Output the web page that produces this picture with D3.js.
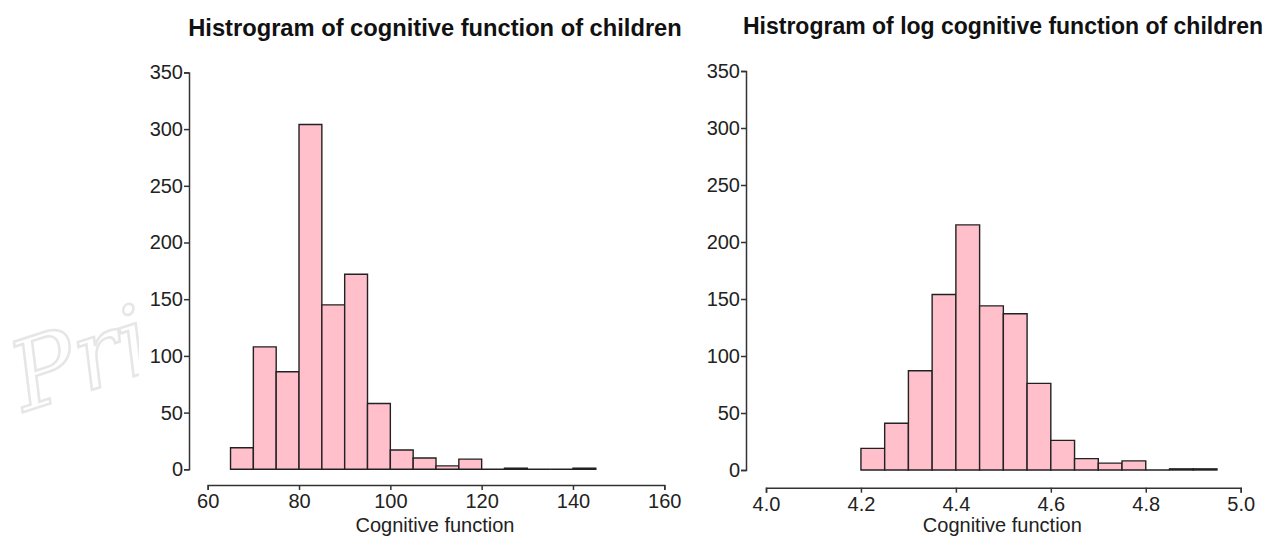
<!DOCTYPE html>
<html>
<head>
<meta charset="utf-8">
<script src="https://cdn.jsdelivr.net/npm/d3@7"></script>
<style>
    body { margin: 0; background: #fff; }
    svg { display: block; }
    .tick text { font-family: "Liberation Sans", Arial, sans-serif; fill: #222; }
    .domain, .tick line { stroke: #333; stroke-width: 1.5px; }
</style>
</head>
<body>
<div id="graphDiv"></div>
<script>
// bin counts
const rawBinStarts = [65, 70, 75, 80, 85, 90, 95, 100, 105, 110, 115, 120, 125, 130, 135, 140]
const rawCounts = [19, 108, 86, 304, 145, 172, 58, 17, 10, 3, 9, 0, 1, 0, 0, 1]
const rawBinWidth = 5

const logBinStarts = [4.20, 4.25, 4.30, 4.35, 4.40, 4.45, 4.50, 4.55, 4.60, 4.65, 4.70, 4.75, 4.80, 4.85, 4.90]
const logCounts = [19, 41, 87, 154, 215, 144, 137, 76, 26, 10, 6, 8, 0, 1, 1]
const logBinWidth = 0.05

const yTicks = [0, 50, 100, 150, 200, 250, 300, 350]
const rawXTicks = [60, 80, 100, 120, 140, 160]
const logXTicks = [4.0, 4.2, 4.4, 4.6, 4.8, 5.0]

const titles = ["Histrogram of cognitive function of children", "Histrogram of log cognitive function of children"]
const xLabel = "Cognitive function"

const svg = d3.select("#graphDiv")
    .append("svg")
    .attr("width", 1273)
    .attr("height", 538)

// faint watermark in the background
svg.append("text")
    .attr("transform", "translate(24,412) rotate(-18)")
    .attr("font-family", "DejaVu Serif, serif")
    .attr("font-style", "italic")
    .attr("font-size", 96)
    .attr("fill", "#fff")
    .attr("stroke", "#e6e6e6")
    .attr("stroke-width", 2.5)
    .text("Pri")

function drawHist(opts) {
    const xScale = d3.scaleLinear().domain(opts.xDomain).range(opts.xRange)
    const yScale = d3.scaleLinear().domain([0, 350]).range(opts.yRange)

    const bins = opts.starts.map((s, i) => ({ x0: s, x1: s + opts.binWidth, n: opts.counts[i] }))

    // white panel hides the watermark behind the plot
    svg.append("rect")
        .attr("x", opts.yAxisX - 50)
        .attr("y", opts.yRange[1] - 12)
        .attr("width", opts.xRange[1] - opts.yAxisX + 60)
        .attr("height", opts.yRange[0] - opts.yRange[1] + 20)
        .attr("fill", "#fff")

    // bars as paths so empty bins still show as a flat line
    svg.append("g")
        .selectAll("path")
        .data(bins)
        .enter()
        .append("path")
        .attr("d", d => {
            const x0 = xScale(d.x0), x1 = xScale(d.x1)
            const y0 = yScale(0), y1 = yScale(d.n)
            return `M${x0},${y0}V${y1}H${x1}V${y0}Z`
        })
        .attr("fill", "#ffc0cb")
        .attr("stroke", "#222")
        .attr("stroke-width", 1.4)

    svg.append("g")
        .attr("transform", `translate(${opts.yAxisX},0)`)
        .call(d3.axisLeft(yScale).tickValues(yTicks).tickSize(5).tickPadding(1).tickSizeOuter(5))
        .call(g => g.selectAll(".tick text").attr("font-size", 20))

    svg.append("g")
        .attr("transform", `translate(0,${opts.xAxisY})`)
        .call(d3.axisBottom(xScale).tickValues(opts.xTicks).tickSize(5).tickPadding(4).tickSizeOuter(5)
            .tickFormat(opts.fmt))
        .call(g => g.selectAll(".tick text").attr("font-size", 20))

    svg.append("text")
        .attr("x", (opts.xRange[0] + opts.xRange[1]) / 2 - 1)
        .attr("y", 532)
        .attr("text-anchor", "middle")
        .attr("font-family", "Liberation Sans, Arial, sans-serif")
        .attr("font-size", 20)
        .attr("fill", "#222")
        .text(xLabel)

    svg.append("text")
        .attr("x", opts.titleX)
        .attr("y", opts.titleY)
        .attr("text-anchor", "middle")
        .attr("font-family", "Liberation Sans, Arial, sans-serif")
        .attr("font-weight", "bold")
        .attr("font-size", opts.titleSize)
        .attr("fill", "#111")
        .text(opts.title)
}

drawHist({
    starts: rawBinStarts, counts: rawCounts, binWidth: rawBinWidth,
    xDomain: [60, 160], xRange: [207.7, 664.3], yRange: [469.3, 72.4],
    yAxisX: 189, xAxisY: 485, xTicks: rawXTicks, fmt: d3.format("d"),
    title: titles[0], titleX: 435, titleY: 36, titleSize: 23.7
})

drawHist({
    starts: logBinStarts, counts: logCounts, binWidth: logBinWidth,
    xDomain: [4, 5], xRange: [766, 1240.7], yRange: [470, 71],
    yAxisX: 746, xAxisY: 487.7, xTicks: logXTicks, fmt: d3.format(".1f"),
    title: titles[1], titleX: 1003, titleY: 34, titleSize: 23
})
</script>
</body>
</html>
